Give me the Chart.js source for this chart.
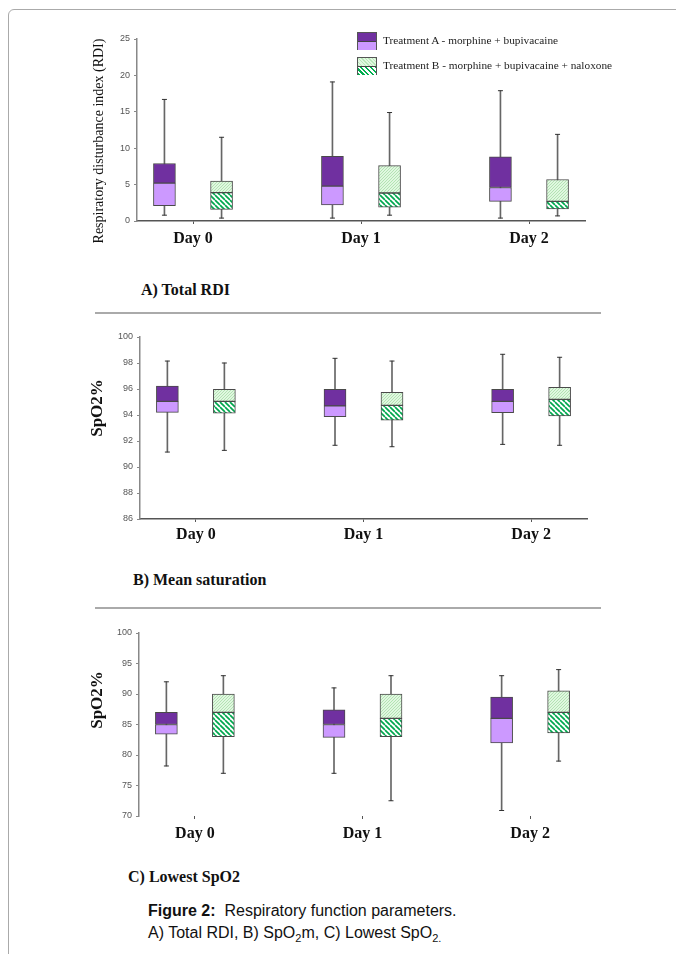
<!DOCTYPE html>
<html>
<head>
<meta charset="utf-8">
<script src="https://cdn.jsdelivr.net/npm/chart.js@4.4.1/dist/chart.umd.min.js"></script>
<style>
  body { margin: 0; background: #fff; width: 676px; height: 954px; position: relative; overflow: hidden; }
  .frame { position: absolute; left: 8px; top: 9px; width: 720px; height: 1000px; border: 1px solid #aaa; border-radius: 6px 0 0 0; }
  .panel { position: absolute; left: 0; }
  .sep { position: absolute; left: 95px; width: 506px; height: 2px; background: #aaa; }
  .ytitle { position: absolute; transform: translate(-50%, -50%) rotate(-90deg); white-space: nowrap; font-family: "Liberation Serif", serif; color: #111; }
  .head { position: absolute; font: bold 16px "Liberation Serif", serif; color: #111; }
  .legend { position: absolute; left: 357px; font: 11.3px "Liberation Serif", serif; color: #222; }
  .legend .row { position: absolute; left: 0; white-space: nowrap; }
  .legend .sw { position: absolute; left: 0; width: 20px; border: 1px solid #555; box-sizing: border-box; }
  .legend .sw div { height: 50%; }
  .legend .sw div + div { border-top: 1px solid #444; }
  .legend span { position: absolute; left: 26px; }
  .caption { position: absolute; left: 148px; top: 900px; font: 16px "Liberation Sans", Arial, sans-serif; color: #111; line-height: 22px; }
  .caption sub { font-size: 11px; }
</style>
</head>
<body>
<div class="frame"></div>

<div class="panel" style="top:0"><canvas id="chartA" width="676" height="265"></canvas></div>
<div class="panel" style="top:312px"><canvas id="chartB" width="676" height="240"></canvas></div>
<div class="panel" style="top:610px"><canvas id="chartC" width="676" height="240"></canvas></div>

<div class="ytitle" style="left:99px; top:141px; font-size:14px;">Respiratory disturbance index (RDI)</div>
<div class="ytitle" style="left:97px; top:408px; font-size:17px; font-weight:bold;">SpO2%</div>
<div class="ytitle" style="left:97px; top:700px; font-size:17px; font-weight:bold;">SpO2%</div>

<div class="legend" style="top:32px">
  <div class="row" style="top:0">
    <div class="sw" style="height:18px"><div style="background:#7030a0"></div><div style="background:#cc99ff"></div></div>
    <span style="top:2px">Treatment A - morphine + bupivacaine</span>
  </div>
  <div class="row" style="top:25px">
    <div class="sw" style="height:18px">
      <div style="background:repeating-linear-gradient(45deg,#b9e8b9 0 1px,#e2f8e2 1px 2.5px)"></div>
      <div style="background:repeating-linear-gradient(45deg,#00b050 0 1.6px,#fff 1.6px 3.4px)"></div>
    </div>
    <span style="top:2px">Treatment B - morphine + bupivacaine + naloxone</span>
  </div>
</div>

<div class="head" style="left:141px; top:281px">A) Total RDI</div>
<div class="sep" style="top:312px"></div>
<div class="head" style="left:133px; top:571px">B) Mean saturation</div>
<div class="sep" style="top:607px"></div>
<div class="head" style="left:128px; top:868px">C) Lowest SpO2</div>

<div class="caption">
  <b>Figure 2:</b>&nbsp; Respiratory function parameters.<br>
  A) Total RDI, B) SpO<sub>2</sub>m, C) Lowest SpO<sub>2.</sub>
</div>

<script>
// категории по оси X
const days = ['Day 0', 'Day 1', 'Day 2'];

// каждая строка: [min, q1, median, q3, max] для одного дня
// A) Total RDI
const rdiA = [[0.8, 2.1, 5.2, 7.9, 16.7], [0.4, 2.2, 4.8, 8.9, 19.1], [0.4, 2.7, 4.6, 8.8, 17.9]];
const rdiB = [[0.4, 1.6, 3.9, 5.5, 11.5], [0.8, 1.9, 3.85, 7.6, 14.9], [0.7, 1.65, 2.7, 5.7, 11.9]];
// B) Mean saturation
const meanA = [[91.15, 94.2, 95.05, 96.23, 98.15], [91.67, 93.87, 94.7, 95.97, 98.36], [91.74, 94.18, 95.05, 95.97, 98.67]];
const meanB = [[91.28, 94.15, 95.05, 95.97, 98.0], [91.56, 93.6, 94.74, 95.74, 98.15], [91.67, 93.92, 95.2, 96.13, 98.44]];
// C) Lowest SpO2
const lowA = [[78.2, 83.4, 85, 87, 92], [77, 82.9, 85, 87.4, 91], [70.9, 82, 86, 89.5, 93]];
const lowB = [[77, 83, 87, 90, 93], [72.5, 83, 86, 90, 93], [79, 83.6, 87, 90.5, 94]];

// деления оси Y: [min, max, шаг]
const rdiTicks = [0, 25, 5];
const meanTicks = [86, 100, 2];
const lowTicks = [70, 100, 5];

// узоры для Treatment B
function makeDots() {
    const c = document.createElement('canvas');
    c.width = 3; c.height = 3;
    const g = c.getContext('2d');
    g.fillStyle = '#e0f7e0';
    g.fillRect(0, 0, 3, 3);
    g.fillStyle = '#b3e3b3';
    g.fillRect(0, 2, 1, 1);
    g.fillRect(1, 1, 1, 1);
    g.fillRect(2, 0, 1, 1);
    return g.createPattern(c, 'repeat');
}

function makeHatch() {
    const c = document.createElement('canvas');
    c.width = 5; c.height = 5;
    const g = c.getContext('2d');
    g.fillStyle = '#fff';
    g.fillRect(0, 0, 5, 5);
    g.strokeStyle = '#00a84e';
    g.lineWidth = 1.7;
    for (let k = -5; k <= 5; k += 5) {
        g.beginPath();
        g.moveTo(k, 0);
        g.lineTo(k + 5, 5);
        g.stroke();
    }
    return g.createPattern(c, 'repeat');
}

const dots = makeDots();
const hatch = makeHatch();

// смещение коробок относительно дня
const shift = 0.17;

function boxDatasets(stats, dx, lowFill, highFill) {
    const pt = (i, v) => ({ x: i + dx, y: v });
    return [
        // усы
        {
            type: 'bar', data: stats.map((s, i) => pt(i, [s[0], s[4]])),
            backgroundColor: '#666', barThickness: 1, order: 3
        },
        // нижняя половина коробки
        {
            type: 'bar', data: stats.map((s, i) => pt(i, [s[1], s[2]])),
            backgroundColor: lowFill, borderColor: '#4a4a4a', borderWidth: 1,
            borderSkipped: false, barThickness: 22, order: 1
        },
        // верхняя половина коробки
        {
            type: 'bar', data: stats.map((s, i) => pt(i, [s[2], s[3]])),
            backgroundColor: highFill, borderColor: '#4a4a4a', borderWidth: 1,
            borderSkipped: false, barThickness: 22, order: 1
        },
        // засечки на концах усов
        {
            type: 'scatter', data: stats.flatMap((s, i) => [pt(i, s[0]), pt(i, s[4])]),
            pointStyle: 'line', pointRadius: 2.5, pointBorderColor: '#333',
            pointBorderWidth: 1, pointHoverRadius: 0, order: 2
        }
    ];
}

function drawBoxChart(id, a, b, yTicks, area, h, xLine, labelPad) {
    new Chart(document.getElementById(id), {
        type: 'bar',
        data: {
            datasets: [
                ...boxDatasets(a, -shift, '#cc99ff', '#7030a0'),
                ...boxDatasets(b, shift, hatch, dots)
            ]
        },
        options: {
            responsive: false,
            animation: false,
            events: [],
            datasets: { bar: { grouped: false } },
            layout: { padding: { top: area.top, right: 676 - area.right, left: 0, bottom: 0 } },
            plugins: { legend: { display: false }, tooltip: { enabled: false } },
            scales: {
                x: {
                    type: 'linear', min: -1 / 3, max: 7 / 3, offset: false,
                    afterFit: (s) => { s.height = h - area.bottom; },
                    border: { display: xLine, color: '#555', width: 1.5 },
                    grid: { display: true, drawOnChartArea: false, offset: false, tickLength: 3, color: '#555' },
                    ticks: {
                        stepSize: 1, includeBounds: false, padding: labelPad, color: '#111',
                        font: { family: 'Liberation Serif', size: 16, weight: 'bold' },
                        callback: (v) => days[v] ?? ''
                    }
                },
                y: {
                    min: yTicks[0], max: yTicks[1],
                    afterFit: (s) => { s.width = area.left; },
                    border: { color: '#888', width: 1.5 },
                    grid: { display: true, drawOnChartArea: false, tickLength: 3, color: '#888' },
                    ticks: {
                        stepSize: yTicks[2], padding: 4, color: '#555',
                        font: { family: 'Liberation Sans', size: 9 }
                    }
                }
            }
        }
    });
}

drawBoxChart('chartA', rdiA, rdiB, rdiTicks, { top: 39, bottom: 221, left: 137, right: 585 }, 265, true, 5);
drawBoxChart('chartB', meanA, meanB, meanTicks, { top: 25, bottom: 207, left: 140, right: 587 }, 240, true, 3);
drawBoxChart('chartC', lowA, lowB, lowTicks, { top: 23, bottom: 206, left: 139, right: 586 }, 240, false, 5);
</script>
</body>
</html>
